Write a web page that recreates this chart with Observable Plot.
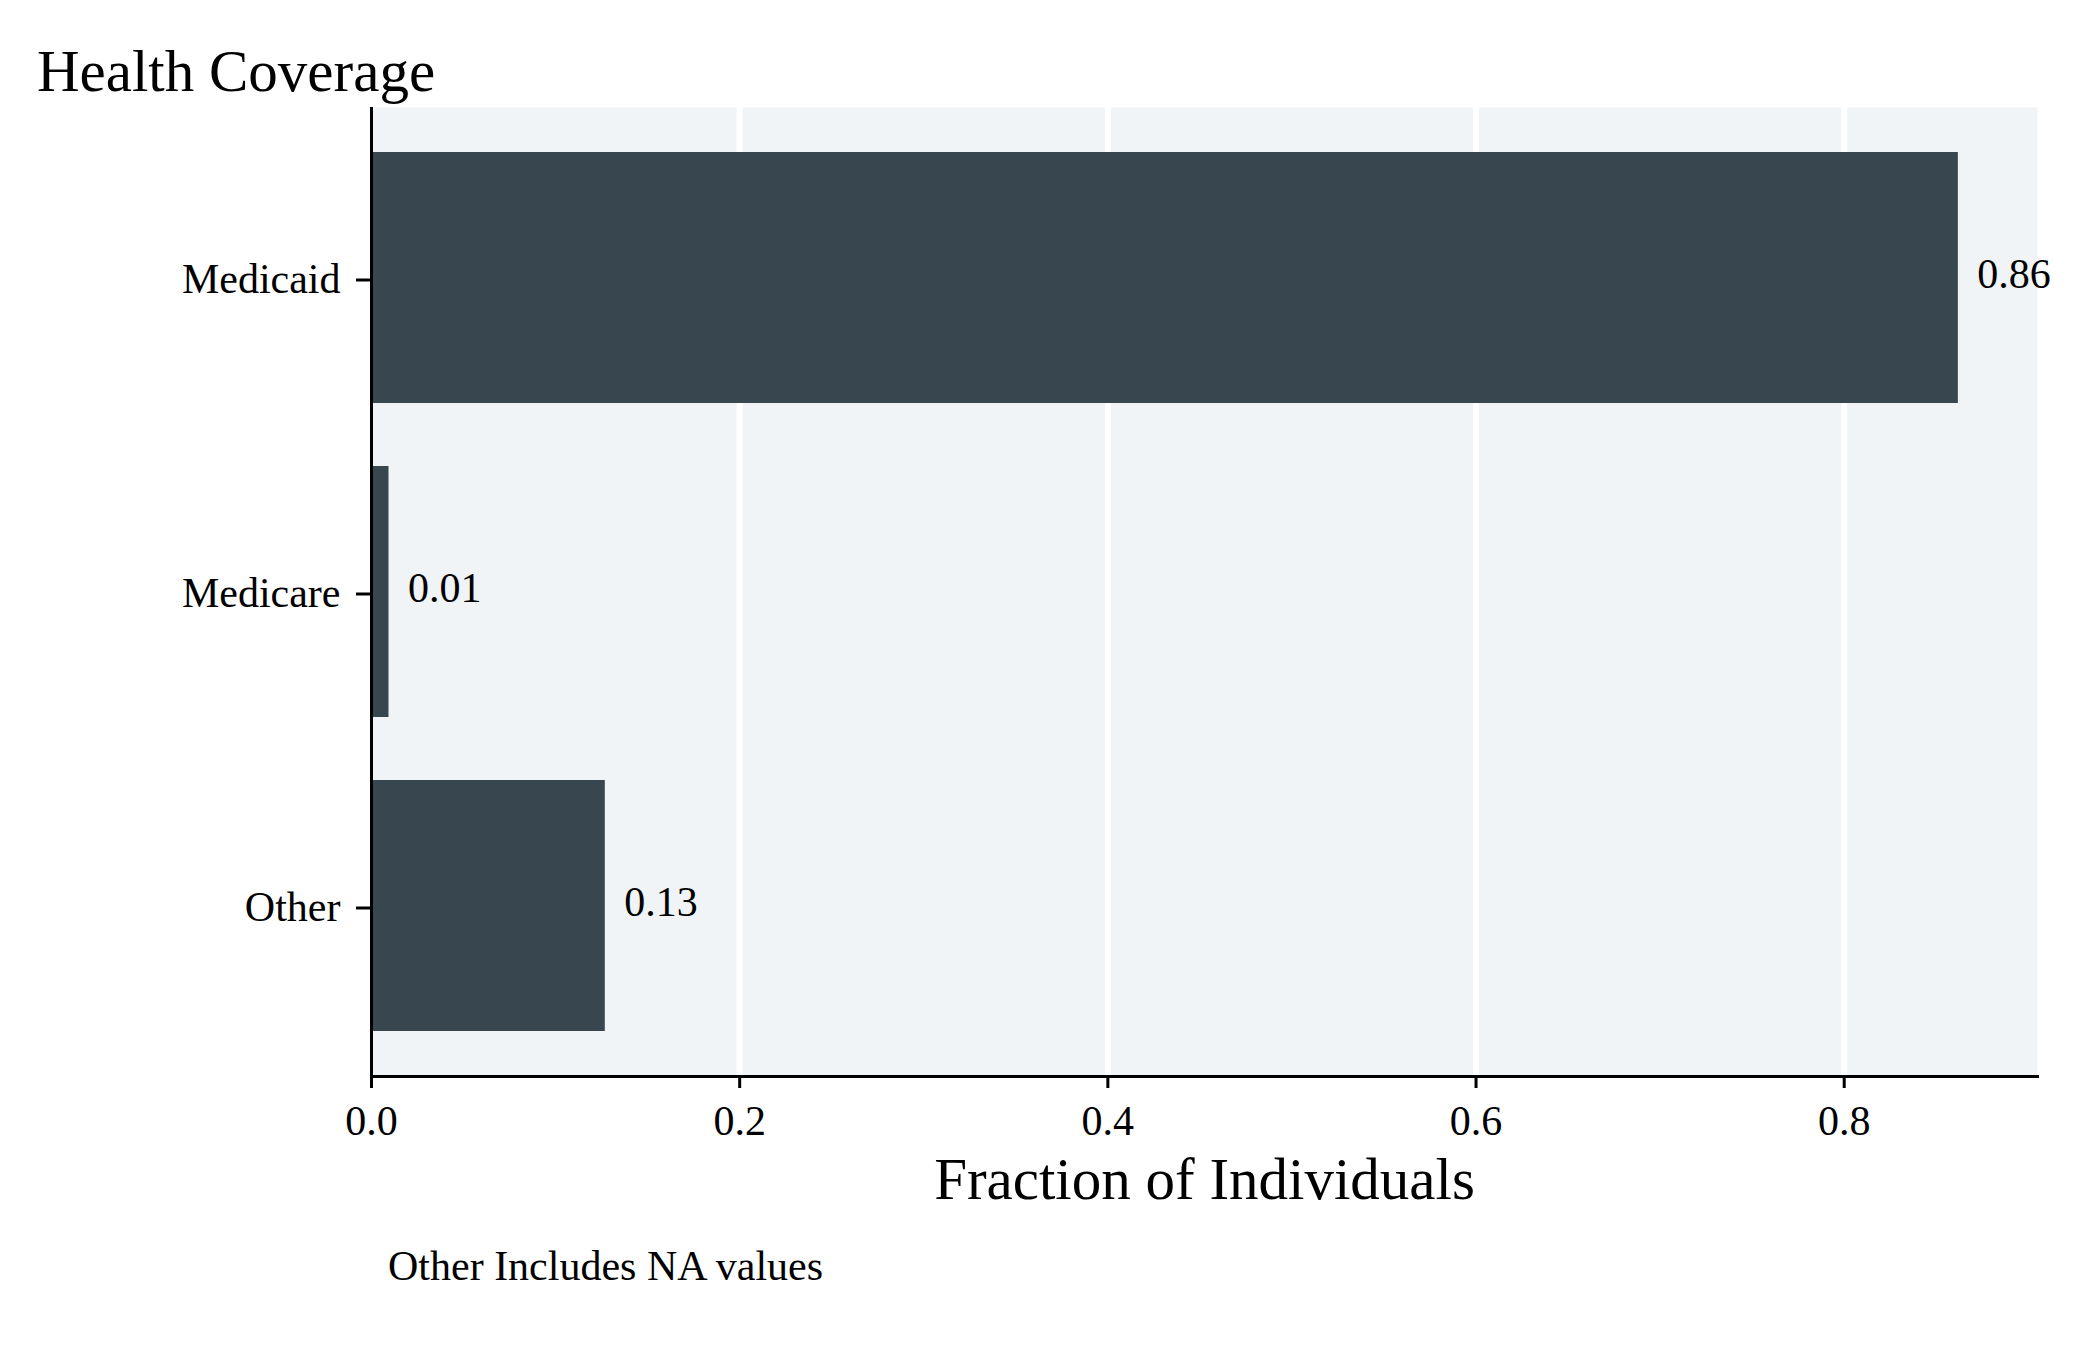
<!DOCTYPE html>
<html>
<head>
<meta charset="utf-8">
<script src="https://cdn.jsdelivr.net/npm/d3@7"></script>
<script src="https://cdn.jsdelivr.net/npm/@observablehq/plot@0.6"></script>
<style>
  html, body { margin: 0; padding: 0; background: #ffffff; }
  body { width: 2100px; height: 1350px; position: relative; overflow: hidden; font-family: "Liberation Serif", serif; color: #000; }
  #title { position: absolute; left: 37px; top: 42px; font-size: 59px; line-height: 1; white-space: nowrap; }
  #chart { position: absolute; left: 0; top: 100px; }
  #caption { position: absolute; left: 388px; top: 1245px; font-size: 42px; line-height: 1; white-space: nowrap; }
</style>
</head>
<body>
<div id="title">Health Coverage</div>
<div id="chart"></div>
<div id="caption">Other Includes NA values</div>
<script>
const categories = ["Medicaid", "Medicare", "Other"];
const fractions = [0.862, 0.0095, 0.127];
const xTicks = [0, 0.2, 0.4, 0.6, 0.8];
const xLabel = "Fraction of Individuals";

const data = categories.map((c, i) => ({category: c, value: fractions[i]}));
const fmt = d3.format(".2f");

const chart = Plot.plot({
  width: 2100,
  height: 1140,
  marginLeft: 371,
  marginRight: 63,
  marginTop: 7,
  marginBottom: 164,
  style: {fontFamily: "Liberation Serif, serif", color: "#000", background: "transparent"},
  x: {domain: [0, 0.905]},
  y: {domain: categories, paddingInner: 0.2, paddingOuter: 0.141, align: 0.5},
  marks: [
    Plot.frame({fill: "#f0f4f7", stroke: null}),
    Plot.gridX(xTicks.slice(1), {stroke: "#ffffff", strokeOpacity: 1, strokeWidth: 6}),
    Plot.barX(data, {x: "value", y: "category", fill: "#38464f"}),
    Plot.text(data, {x: "value", y: "category", text: d => fmt(d.value), dx: 19, dy: -3, textAnchor: "start", lineAnchor: "middle", fontSize: 42, fill: "#000"}),
    Plot.ruleX([0], {stroke: "#000", strokeWidth: 3}),
    Plot.frame({anchor: "bottom", stroke: "#000", strokeWidth: 3}),
    Plot.axisY({tickSize: 15, tickPadding: 16, fontSize: 42, strokeWidth: 3, dy: 2, label: null}),
    Plot.axisX(xTicks, {tickSize: 12, tickPadding: 17, fontSize: 42, strokeWidth: 3, tickFormat: d3.format(".1f"), label: null}),
    Plot.text([xLabel], {frameAnchor: "bottom", dy: 104, lineAnchor: "middle", fontSize: 59, fill: "#000"})
  ]
});
document.getElementById("chart").appendChild(chart);
</script>
</body>
</html>
